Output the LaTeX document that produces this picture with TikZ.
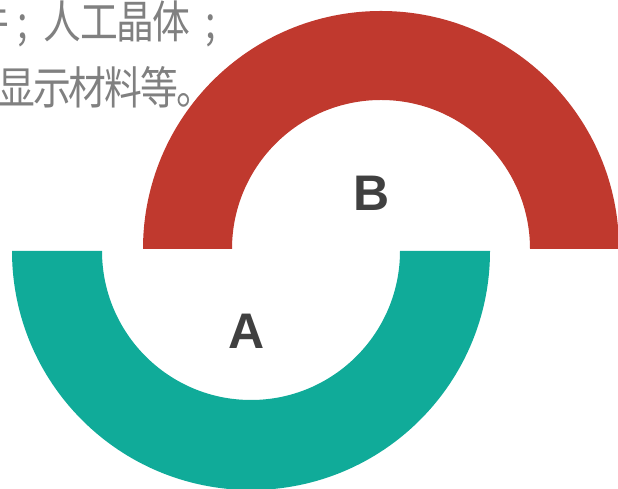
\documentclass[tikz,border=0pt]{standalone}
\usepackage{fontspec}
\setmainfont{Liberation Sans}
\newfontfamily\cjk[FakeStretch=0.84]{Noto Sans CJK SC}
\definecolor{arcred}{HTML}{C0392E}
\definecolor{arcteal}{HTML}{10AB99}
\definecolor{txtgrey}{HTML}{808080}
\definecolor{lblgrey}{HTML}{404040}
\newcommand\cjkcell[2][36.2pt]{\makebox[#1][c]{#2}}
\tikzset{
  cjktext/.style={anchor=west, inner sep=0pt, text=txtgrey, font=\cjk\fontsize{45}{50}\selectfont},
  lbl/.style={inner sep=0pt, text=lblgrey, font=\bfseries\fontsize{50}{56}\selectfont}
}
\begin{document}
\begin{tikzpicture}[x=1pt,y=1pt]
\useasboundingbox (0,0) rectangle (618,489);
\clip (0,0) rectangle (618,489);
\fill[arcred] (143,240) arc[start angle=180,end angle=0,radius=238] -- (530,240) arc[start angle=0,end angle=180,radius=149] -- cycle;
\fill[arcteal] (12,238) arc[start angle=180,end angle=360,radius=239] -- (400,238) arc[start angle=360,end angle=180,radius=149] -- cycle;
\node[cjktext] (l1) at (-28,465.5) {\cjkcell{件}\cjkcell[28pt]{;}\hspace{8.3pt}\cjkcell{人}\cjkcell{工}\cjkcell{晶}\cjkcell{体}\cjkcell[42pt]{;}};
\node[cjktext] (l2) at (-2,401.5) {\cjkcell[35.8pt]{显}\cjkcell[35.8pt]{示}\cjkcell[35.8pt]{材}\cjkcell[35.8pt]{料}\cjkcell[35.8pt]{等}\cjkcell[35.8pt]{。}};
\node[lbl] (b) at (372,296) {B};
\node[lbl] (a) at (247,158) {A};
\end{tikzpicture}
\end{document}
